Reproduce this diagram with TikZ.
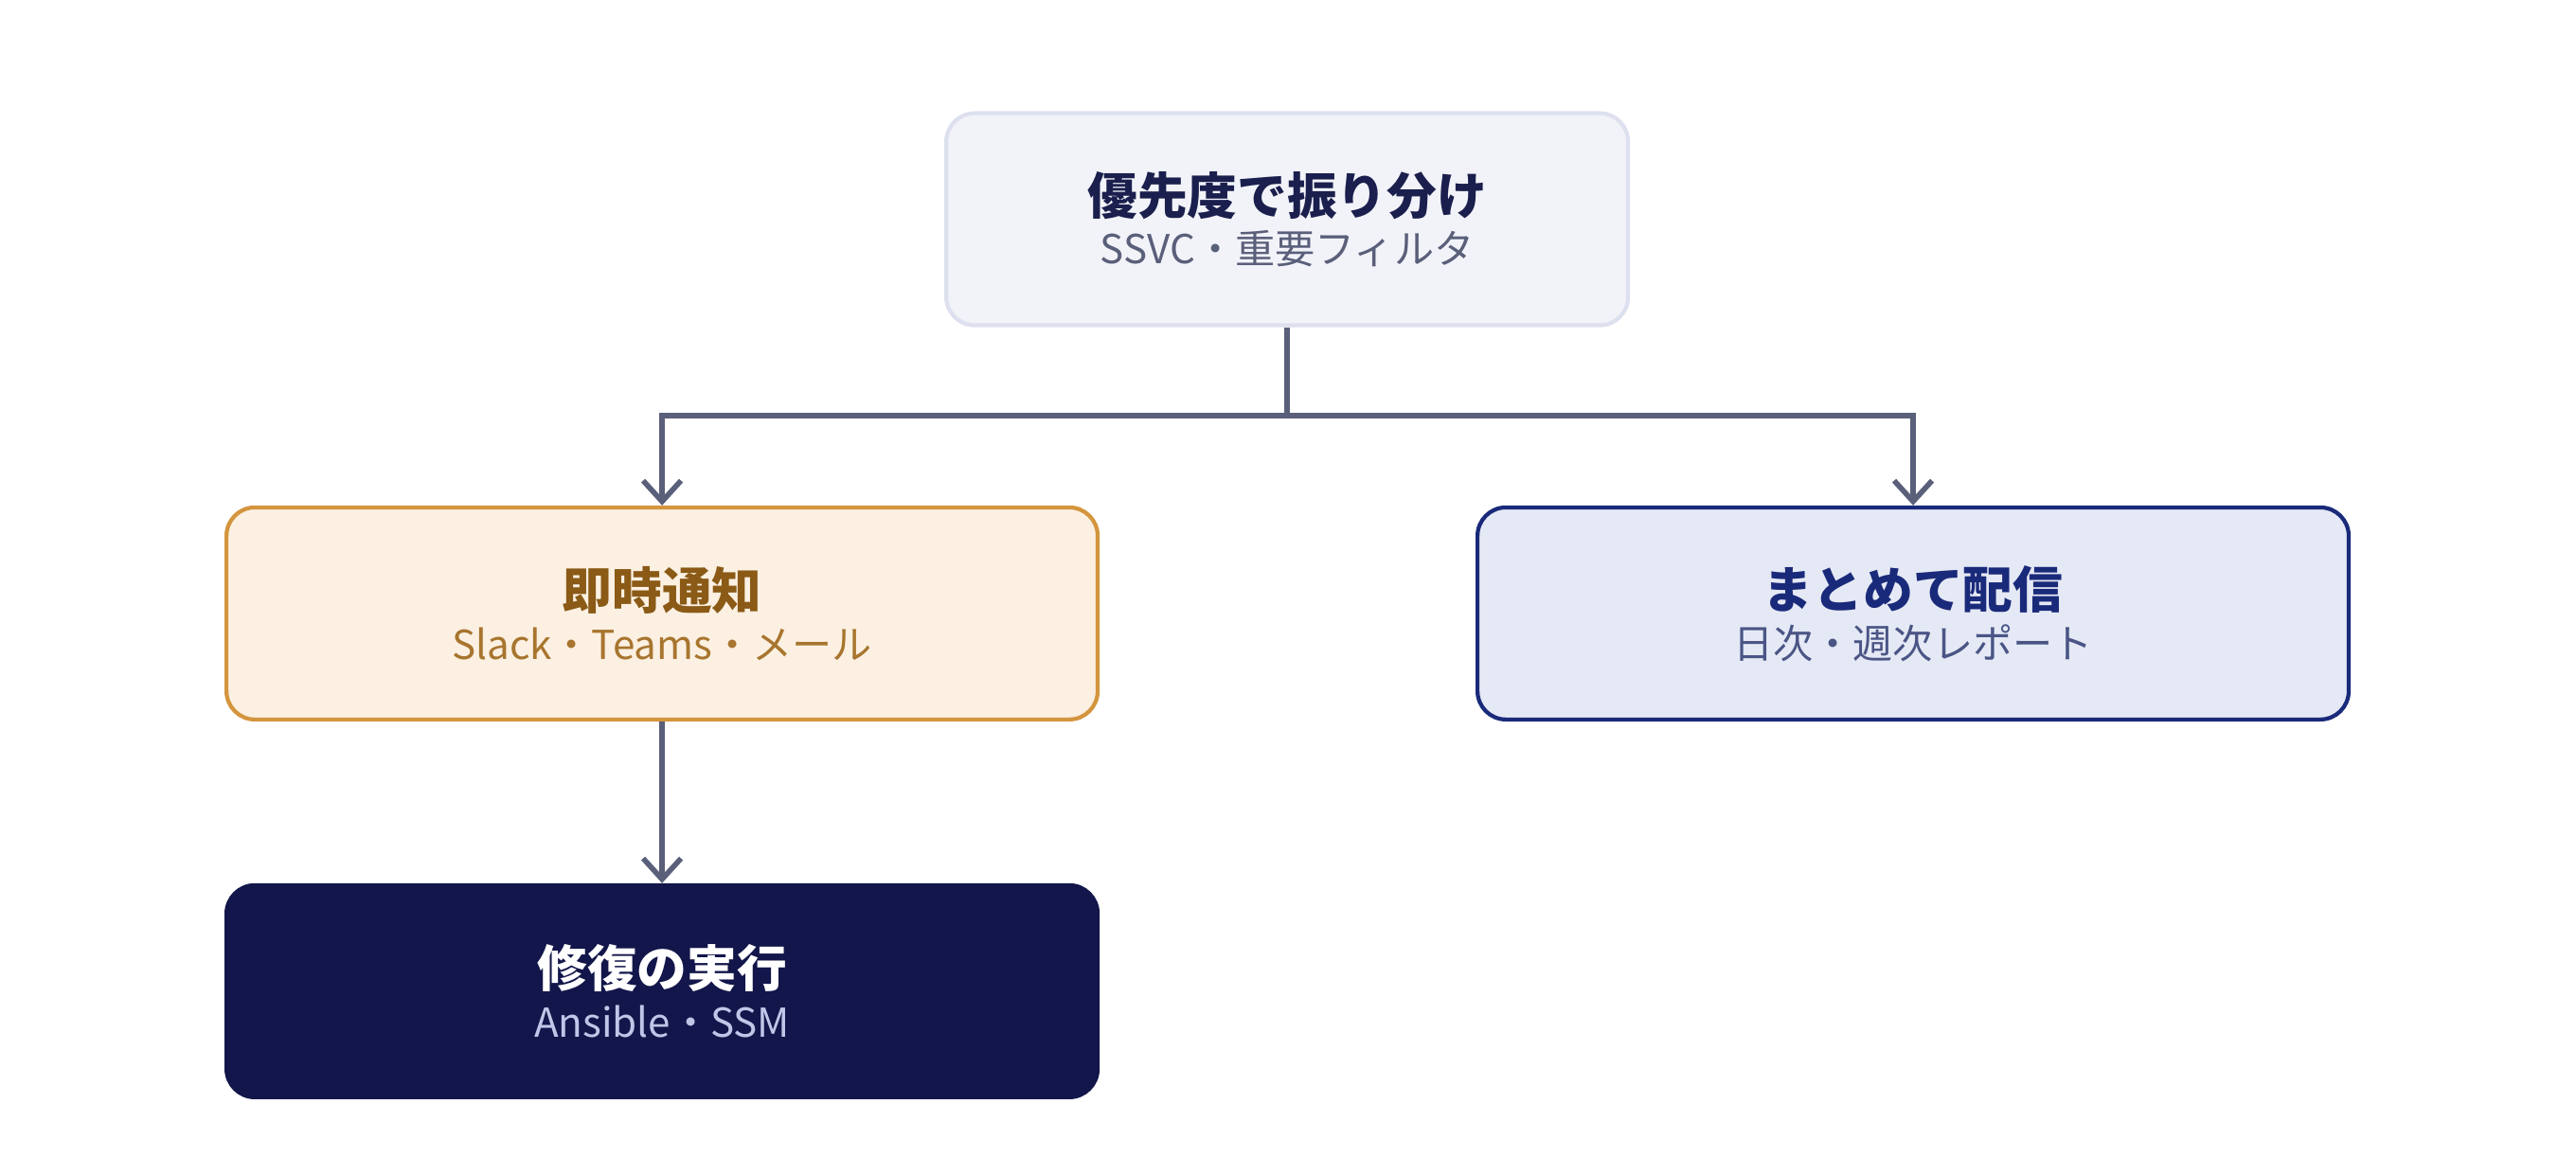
\documentclass[tikz,border=0pt]{standalone}
\usepackage{fontspec}
\setmainfont{Noto Sans CJK JP}
\usetikzlibrary{arrows.meta,positioning}
\definecolor{lineC}{HTML}{5A5F7A}
\definecolor{topF}{HTML}{F2F3F9}
\definecolor{topD}{HTML}{DDE0EE}
\definecolor{topT}{HTML}{1A1F4D}
\definecolor{topS}{HTML}{5A5F7A}
\definecolor{urgF}{HTML}{FBF0E2}
\definecolor{urgD}{HTML}{D4953E}
\definecolor{urgT}{HTML}{8A5A16}
\definecolor{urgS}{HTML}{A8752E}
\definecolor{sumF}{HTML}{E5E9F5}
\definecolor{sumD}{HTML}{1A2A7A}
\definecolor{sumT}{HTML}{1A2A7A}
\definecolor{sumS}{HTML}{4A5585}
\definecolor{fixF}{HTML}{12164A}
\definecolor{fixS}{HTML}{C0C6E8}
\tikzset{
  box/.style = {rectangle, rounded corners=0.3cm, line width=1.2pt,
    minimum height=2.24cm, align=center, inner sep=0pt},
  ttl/.style = {font=\fontsize{15}{18}\selectfont\bfseries},
  sub/.style = {font=\fontsize{12}{15}\selectfont},
  conn/.style = {draw=lineC, line width=1.6pt, -{Straight Barb[length=2.2mm,width=4mm]}}
}
\newcommand{\boxtext}[4]{{\color{#1}\fontsize{15}{18}\selectfont\bfseries #2}\\[3pt]{\color{#3}\fontsize{12}{15}\selectfont #4}}
\begin{document}
\begin{tikzpicture}[x=0.01735cm,y=-0.01735cm]
\useasboundingbox (0,0) rectangle (1568,715);
\node [box, fill=topF, draw=topD, minimum width=7.2cm] (prio) at (783.5,133.5)
  {\boxtext{topT}{優先度で振り分け}{topS}{SSVC・重要フィルタ}};
\node [box, fill=urgF, draw=urgD, minimum width=9.2cm] (now) at (403,373.5)
  {\boxtext{urgT}{即時通知}{urgS}{Slack・Teams・メール}};
\node [box, fill=sumF, draw=sumD, minimum width=9.2cm] (sum) at (1164.5,373.5)
  {\boxtext{sumT}{まとめて配信}{sumS}{日次・週次レポート}};
\node [box, fill=fixF, draw=fixF, minimum width=9.2cm] (fix) at (403,603.5)
  {\boxtext{white}{修復の実行}{fixS}{Ansible・SSM}};
\coordinate (split) at (783.5,253);
\draw [draw=lineC, line width=1.6pt] (prio.south) -- (split);
\draw [conn] (split) -| (now.north);
\draw [conn] (split) -| (sum.north);
\draw [conn] (now.south) -- (fix.north);
\end{tikzpicture}
\end{document}
